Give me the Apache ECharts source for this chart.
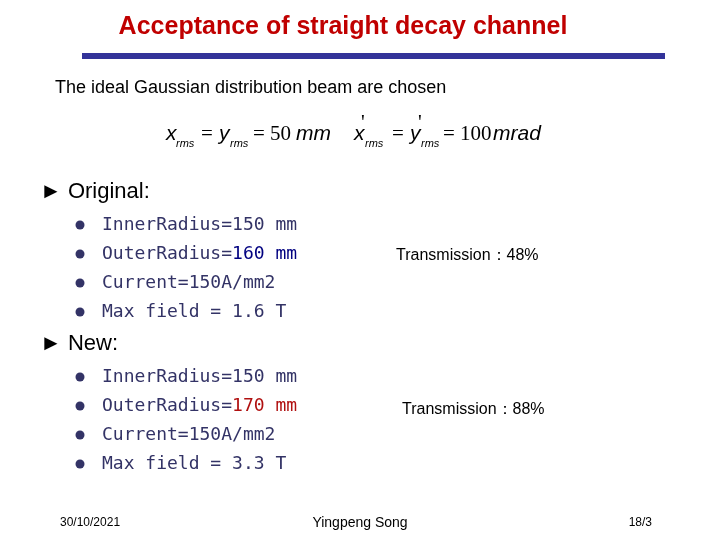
<!DOCTYPE html>
<html>
<head>
<meta charset="utf-8">
<script src="https://cdn.jsdelivr.net/npm/echarts@6/dist/echarts.min.js"></script>
<style>html,body{margin:0;background:#fff}#main{width:720px;height:540px}</style>
</head>
<body>
<div id="main"></div>
<script>
// slide texts
const titleText = 'Acceptance of straight decay channel';
const subtitleText = 'The ideal Gaussian distribution beam are chosen';
const sectionNames = ['Original:', 'New:'];
const innerRadius = ['150 mm', '150 mm'];
const outerRadius = ['160 mm', '170 mm'];
const currents = ['150A/mm2', '150A/mm2'];
const maxFields = ['1.6 T', '3.3 T'];
const transmissions = ['48%', '88%'];
const footer = ['30/10/2021', 'Yingpeng Song', '18/3'];

const sans = 'Arial, "Liberation Sans", sans-serif';
const monoFont = '18px "DejaVu Sans Mono", monospace';
const bulletColor = '#333366';
const highlight = ['#000080', '#b01010'];

const g = [];
function txt(x, y, text, style) {
    g.push({ type: 'text', x: x, y: y, style: Object.assign({ text: text, fill: '#000', font: '18px ' + sans, textVerticalAlign: 'middle' }, style) });
}
function measure(s, font) {
    const c = document.createElement('canvas').getContext('2d');
    c.font = font;
    return c.measureText(s).width;
}

txt(343, 27, titleText, { fill: '#c00000', font: 'bold 25px ' + sans, textAlign: 'center' });
g.push({ type: 'rect', shape: { x: 82, y: 53, width: 583, height: 6 }, style: { fill: '#333399' } });
txt(55, 88, subtitleText, { font: '18px ' + sans });

// formula
const fi = 'italic 21px ' + sans;
const fn = '21px "Liberation Serif", serif';
const fs = 'italic 11px ' + sans;
txt(166, 134, 'x', { font: fi });
txt(176, 144, 'rms', { font: fs });
txt(201, 134, '=', { font: fn });
txt(219, 134, 'y', { font: fi });
txt(230, 144, 'rms', { font: fs });
txt(253, 134, '= 50', { font: fn });
txt(296, 134, 'mm', { font: fi });
txt(354, 134, 'x', { font: fi });
txt(361, 123, "'", { font: fn });
txt(365, 144, 'rms', { font: fs });
txt(392, 134, '=', { font: fn });
txt(410, 134, 'y', { font: fi });
txt(418, 123, "'", { font: fn });
txt(421, 144, 'rms', { font: fs });
txt(443, 134, '= 100', { font: fn });
txt(493, 134, 'mrad', { font: fi });

const sectionY = [192, 344];
const rowGap = 29;
sectionNames.forEach(function (name, i) {
    const y0 = sectionY[i];
    txt(40, y0, '\u25BA ' + name, { font: '22px ' + sans });
    const rows = [
        ['InnerRadius=' + innerRadius[i]],
        ['OuterRadius=', outerRadius[i]],
        ['Current=' + currents[i]],
        ['Max field = ' + maxFields[i]]
    ];
    rows.forEach(function (parts, r) {
        const y = y0 + 33 + r * rowGap;
        g.push({ type: 'circle', shape: { cx: 80, cy: y, r: 4.5 }, style: { fill: bulletColor } });
        txt(102, y, parts[0], { fill: bulletColor, font: monoFont });
        if (parts.length > 1) {
            txt(102 + measure(parts[0], monoFont), y, parts[1], { fill: highlight[i], font: monoFont });
        }
    });
    txt(i === 0 ? 396 : 402, i === 0 ? 256 : 410, 'Transmission\uFF1A' + transmissions[i], { font: '16px ' + sans });
});

txt(60, 523, footer[0], { font: '12px ' + sans });
txt(360, 523, footer[1], { font: '14px ' + sans, textAlign: 'center' });
txt(652, 523, footer[2], { font: '12px ' + sans, textAlign: 'right' });

const chart = echarts.init(document.getElementById('main'));
chart.setOption({ backgroundColor: '#fff', graphic: g });
</script>
</body>
</html>
